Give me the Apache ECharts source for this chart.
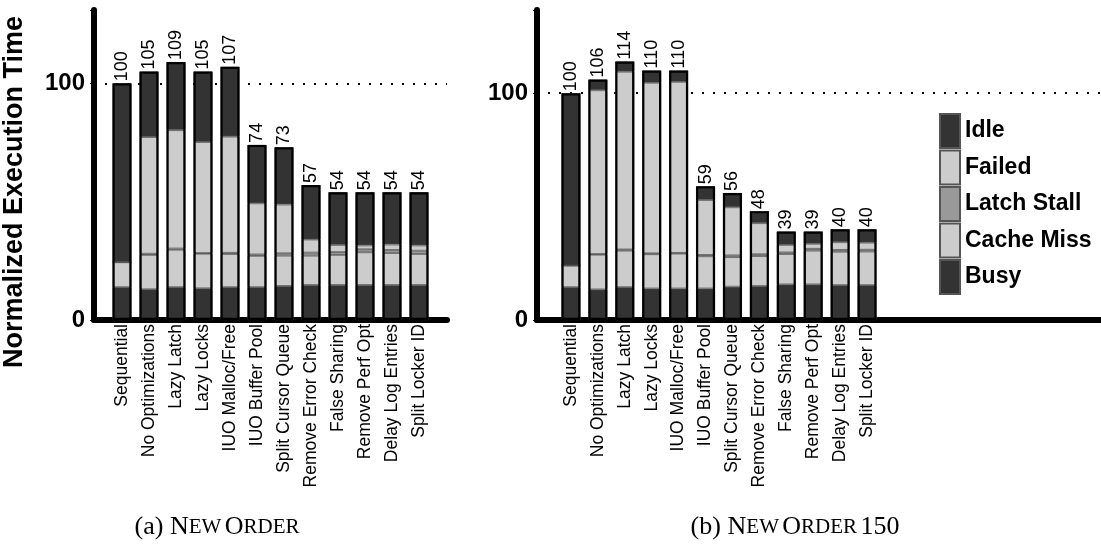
<!DOCTYPE html>
<html>
<head>
<meta charset="utf-8">
<script src="https://cdn.jsdelivr.net/npm/echarts@6/dist/echarts.min.js"></script>
<style>
  html, body { margin: 0; padding: 0; background: #fff; }
  #main { width: 1101px; height: 544px; }
</style>
</head>
<body>
<div id="main"></div>
<script>
var categories = ['Sequential', 'No Optimizations', 'Lazy Latch', 'Lazy Locks', 'IUO Malloc/Free',
  'IUO Buffer Pool', 'Split Cursor Queue', 'Remove Error Check', 'False Sharing',
  'Remove Perf Opt', 'Delay Log Entries', 'Split Locker ID'];
var yTicks = [0, 100];

// (a) New Order
var totalA  = [100, 105, 109, 105, 107, 74, 73, 57, 54, 54, 54, 54];
var busyA   = [13.9, 13.0, 13.9, 13.4, 13.9, 13.9, 14.4, 14.8, 14.8, 14.8, 14.8, 14.8];
var cacheA  = [10.5, 14.5, 15.8, 14.6, 14.0, 13.2, 12.8, 12.4, 12.7, 13.8, 13.5, 13.1];
var latchA  = [0, 0.5, 0.5, 0.3, 0.5, 0.6, 1.0, 1.3, 1.2, 1.3, 1.3, 1.4];
var failedA = [0, 49.3, 50.0, 46.9, 49.1, 21.6, 20.6, 5.5, 3.0, 1.6, 2.3, 2.2];
var idleA   = [75.6, 27.7, 28.8, 29.8, 29.5, 24.7, 24.2, 23.0, 22.3, 22.5, 22.1, 22.5];

// (b) New Order 150
var totalB  = [100, 106, 114, 110, 110, 59, 56, 48, 39, 39, 40, 40];
var busyB   = [14.5, 13.5, 14.5, 13.9, 13.9, 13.9, 14.7, 15.0, 15.7, 15.7, 15.4, 15.4];
var cacheB  = [9.5, 15.3, 16.1, 15.1, 15.4, 14.2, 13.0, 13.2, 13.4, 14.9, 14.7, 14.8];
var latchB  = [0, 0.3, 0.5, 0.4, 0.3, 0.6, 0.8, 0.8, 0.7, 0.8, 0.8, 0.8];
var failedB = [0, 72.2, 78.4, 75.2, 75.4, 24.2, 21.2, 13.7, 3.3, 2.2, 3.4, 3.1];
var idleB   = [76.0, 4.7, 4.5, 5.4, 5.0, 6.1, 6.3, 5.3, 5.9, 5.4, 5.7, 5.9];

var legendNames = ['Idle', 'Failed', 'Latch Stall', 'Cache Miss', 'Busy'];

var chart = echarts.init(document.getElementById('main'));

var DARK = '#333333', LIGHT = '#cccccc', MID = '#999999';
var SANS = 'Liberation Sans', SERIF = 'Liberation Serif';
var maxA = 131, maxB = 136.7;

function frameY(gridIndex, max, withName) {
  return {
    gridIndex: gridIndex, type: 'value', min: 0, max: max, interval: 100,
    name: withName ? 'Normalized Execution Time' : '',
    nameLocation: 'middle', nameRotate: 90, nameGap: 66,
    nameTextStyle: { fontFamily: SANS, fontWeight: 'bold', fontSize: 27, color: '#000', padding: [0, 54, 0, 0] },
    axisLine: { show: true, lineStyle: { color: '#000', width: 6 } },
    axisTick: { show: true, length: 4, lineStyle: { color: '#000', width: 1 } },
    axisLabel: {
      margin: 9, fontFamily: SANS, fontWeight: 'bold', fontSize: 24, color: '#000',
      formatter: function (v) { return yTicks.indexOf(v) >= 0 ? String(v) : ''; }
    },
    splitLine: { show: true, lineStyle: { color: ['rgba(0,0,0,0)', '#000', 'rgba(0,0,0,0)'], type: [2, 9], width: 2 } }
  };
}
function frameX(gridIndex) {
  return {
    gridIndex: gridIndex, type: 'value', min: 0, max: 1,
    axisLine: { show: true, onZero: false, lineStyle: { color: '#000', width: 6 } },
    axisTick: { show: false }, axisLabel: { show: false }, splitLine: { show: false }
  };
}
function mainX(gridIndex) {
  return {
    gridIndex: gridIndex, type: 'category', data: categories,
    axisLine: { show: false }, axisTick: { show: false },
    axisLabel: { rotate: 90, interval: 0, margin: 4, fontFamily: SANS, fontSize: 17.5, color: '#000' }
  };
}
function mainY(gridIndex, max) {
  return { gridIndex: gridIndex, type: 'value', min: 0, max: max, show: false, splitLine: { show: false } };
}

function seg(name, data, color, axis) {
  return {
    name: name, type: 'bar', stack: 'tot' + axis, data: data,
    xAxisIndex: axis, yAxisIndex: axis, barWidth: 19, barGap: '-100%',
    itemStyle: { color: color, borderColor: '#555', borderWidth: 0.8 },
    emphasis: { disabled: true }, z: 2
  };
}
function outline(data, axis) {
  return {
    name: 'total', type: 'bar', data: data,
    xAxisIndex: axis, yAxisIndex: axis, barWidth: 19, barGap: '-100%',
    itemStyle: { color: 'rgba(0,0,0,0)', borderColor: '#000', borderWidth: 2.2 },
    label: {
      show: true, position: 'top', rotate: 90, align: 'left', verticalAlign: 'middle',
      distance: 2, fontFamily: SANS, fontSize: 18, color: '#000'
    },
    emphasis: { disabled: true }, z: 3
  };
}

var capRich = {
  p: { fontFamily: SERIF, fontSize: 26, fill: '#000' },
  b: { fontFamily: SERIF, fontSize: 26, fill: '#000' },
  s: { fontFamily: SERIF, fontSize: 21, fill: '#000' }
};

var option = {
  animation: false,
  backgroundColor: '#fff',
  grid: [
    { left: 88, top: 10, width: 359, height: 310 },
    { left: 108.5, top: 10, width: 324, height: 310 },
    { left: 537, top: 10, width: 563, height: 310 },
    { left: 557.5, top: 10, width: 323, height: 310 }
  ],
  xAxis: [frameX(0), mainX(1), frameX(2), mainX(3)],
  yAxis: [frameY(0, maxA, true), mainY(1, maxA), frameY(2, maxB, false), mainY(3, maxB)],
  legend: {
    data: legendNames, orient: 'vertical', left: 939, top: 113, padding: 0,
    itemWidth: 20, itemHeight: 34, itemGap: 0.5, icon: 'rect',
    textStyle: { fontFamily: SANS, fontWeight: 'bold', fontSize: 23, color: '#000' },
    selectedMode: false
  },
  series: [
    seg('Busy', busyA, DARK, 1),
    seg('Cache Miss', cacheA, LIGHT, 1),
    seg('Latch Stall', latchA, MID, 1),
    seg('Failed', failedA, LIGHT, 1),
    seg('Idle', idleA, DARK, 1),
    outline(totalA, 1),
    seg('Busy', busyB, DARK, 3),
    seg('Cache Miss', cacheB, LIGHT, 3),
    seg('Latch Stall', latchB, MID, 3),
    seg('Failed', failedB, LIGHT, 3),
    seg('Idle', idleB, DARK, 3),
    outline(totalB, 3)
  ],
  graphic: [
    {
      type: 'text', x: 217, y: 527,
      style: {
        text: '{p|(a)}  {b|N}{s|EW} {b|O}{s|RDER}', rich: capRich,
        align: 'center', verticalAlign: 'middle'
      }
    },
    {
      type: 'text', x: 795, y: 527,
      style: {
        text: '{p|(b)}  {b|N}{s|EW} {b|O}{s|RDER} {b|150}', rich: capRich,
        align: 'center', verticalAlign: 'middle'
      }
    }
  ]
};
chart.setOption(option);
</script>
</body>
</html>
